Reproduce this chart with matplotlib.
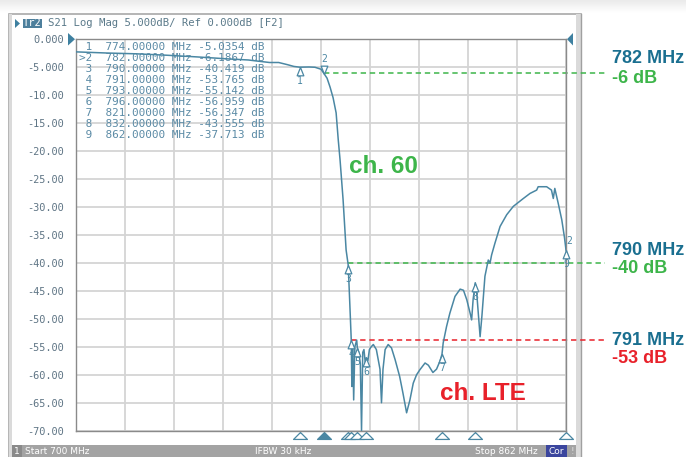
import numpy as np
import matplotlib.pyplot as plt
import matplotlib.transforms as mtransforms
from matplotlib.patches import Rectangle, Polygon

freq = [700, 705, 710, 720, 730, 740, 750, 757, 760, 764, 767, 770, 772, 774,
        777, 779, 781, 782, 783, 784, 785, 786, 786.7, 787.3, 788.3, 789.3, 790,
        790.5, 791, 791.2, 791.5, 791.8, 792.2, 792.8, 793, 793.5, 794.0, 794.4,
        794.8, 795.2, 795.7, 796, 796.5, 797, 797.6, 798.3, 799.3, 800.5, 801.0,
        801.5, 802.2, 803.2, 804.3, 805.5, 807, 808.1, 809.3, 810.4, 811.5, 812.6,
        813.7, 815.4, 816.5, 818, 819.2, 820.3, 821, 821.4, 822.5, 823.6, 825.3,
        827, 828.1, 829.2, 830.3, 830.8, 831.3, 832, 832.5, 833.6, 834.2, 835.2,
        836.3, 836.9, 837.4, 838.5, 840.2, 842.4, 844.6, 847.9, 850.1, 852.3,
        852.8, 855.6, 857.2, 857.8, 858.3, 859.4, 860.6, 861.5, 862]
s21 = [-2.3, -2.4, -2.5, -2.65, -2.9, -3.2, -3.55, -3.75, -3.95, -4.2, -4.2, -4.6,
       -4.9, -5.0354, -5.0, -5.05, -5.4, -6.1867, -7.0, -8.6, -10.5, -13.2, -18,
       -21.6, -28.7, -37.7, -40.419, -47, -53.765, -62.1, -55, -64.5, -55, -53.8,
       -55.142, -56, -58, -70, -56, -55.5, -58.2, -56.959, -57.5, -55.5, -55,
       -54.6, -55.5, -59, -65, -59, -55.5, -54.6, -55.2, -57.3, -60.3, -63.3,
       -66.8, -64.5, -61.5, -60, -59.1, -57.9, -58.3, -59.6, -59.0, -57.6,
       -56.347, -54.3, -51.4, -49, -46, -44.7, -44.9, -46.6, -49, -50.2, -46.5,
       -43.555, -45.5, -53.2, -49.5, -42.4, -39.5, -40, -38.6, -36.5, -33.5,
       -31.4, -29.9, -28.5, -27.6, -27.0, -26.4, -26.4, -27.0, -28.5, -26.7,
       -29.3, -32.3, -35.5, -37.713]

# markers
mk_nr = [1, 2, 3, 4, 5, 6, 7, 8, 9]
mk_freq = [774, 782, 790, 791, 793, 796, 821, 832, 862]
mk_db = [-5.0354, -6.1867, -40.419, -53.765, -55.142, -56.959, -56.347, -43.555, -37.713]
mk_txt = ["-5.0354", "-6.1867", "-40.419", "-53.765", "-55.142", "-56.959",
          "-56.347", "-43.555", "-37.713"]

yticks = list(range(0, -75, -5))
ylabels = ["0.000", "-5.000", "-10.00", "-15.00", "-20.00", "-25.00", "-30.00",
           "-35.00", "-40.00", "-45.00", "-50.00", "-55.00", "-60.00", "-65.00",
           "-70.00"]

trace_col = "#4a87a3"
txt_col = "#5b7a8a"
blue = "#1a6f90"
green = "#3db54a"
red = "#e8212a"
mono = "DejaVu Sans Mono"
sans = "Liberation Sans"

fig = plt.figure(figsize=(6.86, 4.57), dpi=100)

# achtergrond in pixels
bg = fig.add_axes([0, 0, 1, 1])
grad = np.linspace(0.92, 1.0, 20).reshape(-1, 1)
bg.imshow(grad, cmap="gray", vmin=0, vmax=1, extent=(0, 686, 13, 0),
          origin="upper", aspect="auto")
bg.add_patch(Rectangle((9, 14), 572, 443, fc="white", ec="#a8a8a8", lw=1.2))
bg.add_patch(Rectangle((9, 14), 3, 443, fc="#dadada", ec="none"))
bg.add_patch(Rectangle((576, 14), 5, 443, fc="#dadada", ec="none"))
bg.plot([580.5, 580.5], [14, 457], color="#a0a0a0", lw=1)
bg.add_patch(Rectangle((12, 445), 564, 12, fc="#a3a3a3", ec="none"))
bg.add_patch(Rectangle((12, 445), 10, 12, fc="#8a8a8a", ec="none"))
bg.add_patch(Rectangle((546, 445), 21, 12, fc="#3b469e", ec="none"))
bg.text(17, 451.5, "1", color="white", fontsize=6.5, ha="center", va="center")
bg.text(25, 451.5, "Start 700 MHz", color="white", fontsize=6.5, ha="left", va="center")
bg.text(283, 451.5, "IFBW 30 kHz", color="white", fontsize=6.5, ha="center", va="center")
bg.text(538, 451.5, "Stop 862 MHz", color="white", fontsize=6.5, ha="right", va="center")
bg.text(556.5, 451.5, "Cor", color="white", fontsize=6.5, ha="center", va="center")
bg.text(572, 451.5, "!", color="#dddddd", fontsize=6.5, ha="center", va="center")

# kop
bg.add_patch(Polygon([(15, 19), (15, 28), (20, 23.5)], closed=True, fc="#3e80a0"))
bg.add_patch(Rectangle((22.5, 19), 19, 9, fc="#4d7f9c", ec="none"))
bg.text(32, 23.5, "Tr2", color="white", fontsize=7.5, family=mono,
        ha="center", va="center")
bg.text(48, 23.5, "S21 Log Mag 5.000dB/ Ref 0.000dB [F2]", color=txt_col,
        fontsize=7.7, family=mono, ha="left", va="center")
bg.add_patch(Polygon([(68, 33), (68, 45.5), (75, 39.2)], closed=True, fc="#3e80a0"))
bg.add_patch(Polygon([(573, 33), (573, 45.5), (567, 39.2)], closed=True, fc="#3e80a0"))

# labels rechts
bg.text(612, 63.3, "782 MHz", color=blue, fontsize=13, family=sans, weight="bold")
bg.text(612, 83, "-6 dB", color=green, fontsize=13, family=sans, weight="bold")
bg.text(612, 255, "790 MHz", color=blue, fontsize=13, family=sans, weight="bold")
bg.text(612, 273, "-40 dB", color=green, fontsize=13, family=sans, weight="bold")
bg.text(612, 345, "791 MHz", color=blue, fontsize=13, family=sans, weight="bold")
bg.text(612, 363, "-53 dB", color=red, fontsize=13, family=sans, weight="bold")
bg.set_xlim(0, 686)
bg.set_ylim(457, 0)
bg.axis("off")

# plot
ax = fig.add_axes([76 / 686, 26.3 / 457, 490 / 686, 391.7 / 457])
ax.set_axisbelow(True)
ax.grid(color="#d4d4d4", lw=1.3)
for s in ax.spines.values():
    s.set_color("#8a8a8a")
    s.set_linewidth(1)
ax.set_xticks(np.linspace(700, 862, 11))
ax.set_xticklabels([])
ax.set_yticks(yticks)
ax.set_yticklabels(ylabels, family=mono, fontsize=7.4, color="#5f7585")
ax.tick_params(length=0, pad=9)

# markertabel
for i in range(len(mk_nr)):
    nr = (">" if mk_nr[i] == 2 else "") + str(mk_nr[i])
    row = f"{nr:>2}  {mk_freq[i]:.5f} MHz {mk_txt[i]} dB"
    ax.text(78.7, 46.7 + i * 11.05, row, transform=bg.transData, family=mono,
            fontsize=7.9, color="#5a8aa5", ha="left", va="center", zorder=1.5)

ax.plot(freq, s21, color=trace_col, lw=1.1, zorder=3)

# stippellijnen
ax.plot([782, 875], [-6, -6], ls=(0, (3.5, 2.5)), color=green, lw=1.1, clip_on=False, zorder=2)
ax.plot([790, 875], [-40, -40], ls=(0, (3.5, 2.5)), color=green, lw=1.1, clip_on=False, zorder=2)
ax.plot([791, 875], [-53.765, -53.765], ls=(0, (3.5, 2.5)), color=red, lw=1.1, clip_on=False, zorder=2)

# markers op de trace
up = [(0, 0), (-0.4, -1), (0.4, -1), (0, 0)]
down = [(0, 0), (-0.4, 1), (0.4, 1), (0, 0)]
for i in range(len(mk_nr)):
    if mk_nr[i] == 2:
        ax.plot(mk_freq[i], mk_db[i], marker=down, ms=12, mfc="white", mec=trace_col,
                mew=0.9, zorder=4, clip_on=False)
        ax.annotate("2", (mk_freq[i], mk_db[i]), xytext=(0, 7), textcoords="offset points",
                    ha="center", va="bottom", fontsize=7, family=mono, color=trace_col)
    else:
        ax.plot(mk_freq[i], mk_db[i], marker=up, ms=12, mfc="white", mec=trace_col,
                mew=0.9, zorder=4, clip_on=False)
        ax.annotate(str(mk_nr[i]), (mk_freq[i], mk_db[i]), xytext=(0, -6.5),
                    textcoords="offset points", ha="center", va="top", fontsize=7,
                    family=mono, color=trace_col, zorder=4)
ax.annotate("2", (862, -37.713), xytext=(2, 3), textcoords="offset points",
            ha="center", va="bottom", fontsize=7, family=mono, color=trace_col)

# driehoekjes onder de as
tri = [(0, 0), (-1, -1), (1, -1), (0, 0)]
btrans = mtransforms.blended_transform_factory(ax.transData, ax.transAxes)
for i in range(len(mk_nr)):
    fc = trace_col if mk_nr[i] == 2 else "white"
    ax.plot(mk_freq[i], -0.003, marker=tri, ms=10, mfc=fc, mec=trace_col, mew=0.9,
            transform=btrans, clip_on=False)

ax.text(349, 172.7, "ch. 60", transform=bg.transData, color=green, fontsize=17.5,
        family=sans, weight="bold", zorder=5)
ax.text(440, 400, "ch. LTE", transform=bg.transData, color=red, fontsize=17.5,
        family=sans, weight="bold", zorder=5)

ax.set_xlim(700, 862)
ax.set_ylim(-70, 0)

fig.savefig("out.png", dpi=100)
